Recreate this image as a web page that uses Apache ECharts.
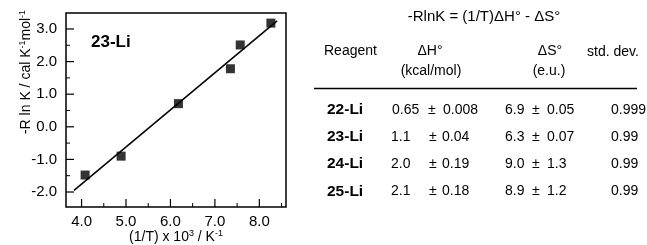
<!DOCTYPE html>
<html>
<head>
<meta charset="utf-8">
<script src="https://cdn.jsdelivr.net/npm/echarts@6/dist/echarts.min.js"></script>
<style>
  html, body { margin: 0; padding: 0; background: #fff; }
  #main { width: 647px; height: 245px; }
</style>
</head>
<body>
<div id="main"></div>
<script>
// data
var xVals = [4.08, 4.89, 6.18, 7.35, 7.57, 8.26];
var yVals = [-1.48, -0.90, 0.71, 1.78, 2.51, 3.18];
// fitted line end points
var fitX = [3.83, 8.40];
var fitY = [-1.95, 3.25];
// axis ticks
var xTicks = [4, 5, 6, 7, 8];
var xMinor = [4.5, 5.5, 6.5, 7.5, 8.5];
var yTicks = [-2, -1, 0, 1, 2, 3];
var yMinor = [-1.5, -0.5, 0.5, 1.5, 2.5];

// table
var reagents = ["22-Li", "23-Li", "24-Li", "25-Li"];
var dH = ["0.65", "1.1", "2.0", "2.1"];
var dHerr = ["0.008", "0.04", "0.19", "0.18"];
var dS = ["6.9", "6.3", "9.0", "8.9"];
var dSerr = ["0.05", "0.07", "1.3", "1.2"];
var stdDev = ["0.999", "0.99", "0.99", "0.99"];

var X_MIN = 3.65, X_MAX = 8.6, Y_MIN = -2.46, Y_MAX = 3.49;
var FONT = '"Liberation Sans", Arial, Helvetica, sans-serif';

var chart = echarts.init(document.getElementById("main"));

function txt(x, y, s, opt) {
  opt = opt || {};
  return {
    type: "text",
    x: x,
    y: y,
    style: {
      text: s,
      fill: "#000",
      font: (opt.bold ? "bold " : "") + (opt.size || 14) + "px " + FONT,
      textAlign: opt.align || "left",
      textVerticalAlign: "middle"
    }
  };
}

var supStyle = { fontSize: 9, fontFamily: FONT, verticalAlign: "top", lineHeight: 16, padding: [0, 0, 7, 0] };

var graphics = [];
// label inside the plot
graphics.push(txt(91, 42, "23-Li", { bold: true, size: 17 }));
// y axis title (rotated, with superscripts)
graphics.push({
  type: "text",
  x: 26,
  y: 72,
  rotation: Math.PI / 2,
  style: {
    text: "-R ln K / cal K{s|-1}mol{s|-1}",
    fill: "#000",
    font: "14px " + FONT,
    textAlign: "center",
    textVerticalAlign: "middle",
    rich: { s: supStyle }
  }
});
// x axis title
graphics.push({
  type: "text",
  x: 176,
  y: 237,
  style: {
    text: "(1/T) x 10{s|3} / K{s|-1}",
    fill: "#000",
    font: "14px " + FONT,
    textAlign: "center",
    textVerticalAlign: "middle",
    rich: { s: supStyle }
  }
});

// table title and header
graphics.push(txt(484, 17, "-RlnK = (1/T)\u0394H\u00b0 - \u0394S\u00b0", { align: "center", size: 15 }));
graphics.push(txt(324, 51, "Reagent"));
graphics.push(txt(430, 51, "\u0394H\u00b0", { align: "center" }));
graphics.push(txt(431, 71, "(kcal/mol)", { align: "center" }));
graphics.push(txt(550, 51, "\u0394S\u00b0", { align: "center" }));
graphics.push(txt(549, 71, "(e.u.)", { align: "center" }));
graphics.push(txt(613, 52, "std. dev.", { align: "center" }));
graphics.push({
  type: "line",
  shape: { x1: 314, y1: 88.5, x2: 637, y2: 88.5 },
  style: { stroke: "#000", lineWidth: 1.5 }
});

var rowY = [110, 137, 164, 191.5];
reagents.forEach(function (r, i) {
  var y = rowY[i];
  graphics.push(txt(327, y, r, { bold: true, size: 15.5 }));
  if (i === 0) {
    graphics.push(txt(392, y, dH[i]));
    graphics.push(txt(428, y, "\u00b1"));
    graphics.push(txt(443, y, dHerr[i]));
  } else {
    graphics.push(txt(391, y, dH[i]));
    graphics.push(txt(429, y, "\u00b1"));
    graphics.push(txt(442, y, dHerr[i]));
  }
  graphics.push(txt(505, y, dS[i]));
  graphics.push(txt(532, y, "\u00b1"));
  graphics.push(txt(547, y, dSerr[i]));
  graphics.push(txt(611, y, stdDev[i]));
});

// inward tick marks, placed through the axes' own scales
function tickSeries(values, isX, len, width) {
  return {
    type: "custom",
    silent: true,
    clip: false,
    data: values.map(function (v) { return [v]; }),
    encode: isX ? { x: 0 } : { y: 0 },
    renderItem: function (params, api) {
      var v = api.value(0);
      var p = isX ? api.coord([v, Y_MIN]) : api.coord([X_MIN, v]);
      return {
        type: "line",
        shape: isX
          ? { x1: p[0], y1: p[1], x2: p[0], y2: p[1] - len }
          : { x1: p[0], y1: p[1], x2: p[0] + len, y2: p[1] },
        style: { stroke: "#000", lineWidth: width }
      };
    }
  };
}

var labelStyle = { color: "#000", fontSize: 15, fontFamily: FONT };

var option = {
  animation: false,
  grid: {
    left: 66, top: 13, width: 220, height: 194,
    show: true, borderColor: "#000", borderWidth: 1.5, backgroundColor: "transparent"
  },
  xAxis: {
    type: "value", min: X_MIN, max: X_MAX,
    axisLine: { show: false, onZero: false },
    splitLine: { show: false },
    axisTick: { show: false },
    axisLabel: Object.assign({ customValues: xTicks, margin: 7, formatter: function (v) { return v.toFixed(1); } }, labelStyle)
  },
  yAxis: {
    type: "value", min: Y_MIN, max: Y_MAX,
    axisLine: { show: false, onZero: false },
    splitLine: { show: false },
    axisTick: { show: false },
    axisLabel: Object.assign({ customValues: yTicks, margin: 9, formatter: function (v) { return v.toFixed(1); } }, labelStyle)
  },
  series: [
    tickSeries(xTicks, true, 8, 1.2),
    tickSeries(xMinor, true, 4, 1),
    tickSeries(yTicks, false, 8, 1.2),
    tickSeries(yMinor, false, 4, 1),
    {
      type: "line",
      data: fitX.map(function (x, i) { return [x, fitY[i]]; }),
      showSymbol: false,
      lineStyle: { color: "#000", width: 1.5 },
      silent: true
    },
    {
      type: "scatter",
      data: xVals.map(function (x, i) { return [x, yVals[i]]; }),
      symbol: "rect",
      symbolSize: 9,
      itemStyle: { color: "#000" }
    }
  ],
  graphic: graphics
};

chart.setOption(option);
</script>
</body>
</html>
